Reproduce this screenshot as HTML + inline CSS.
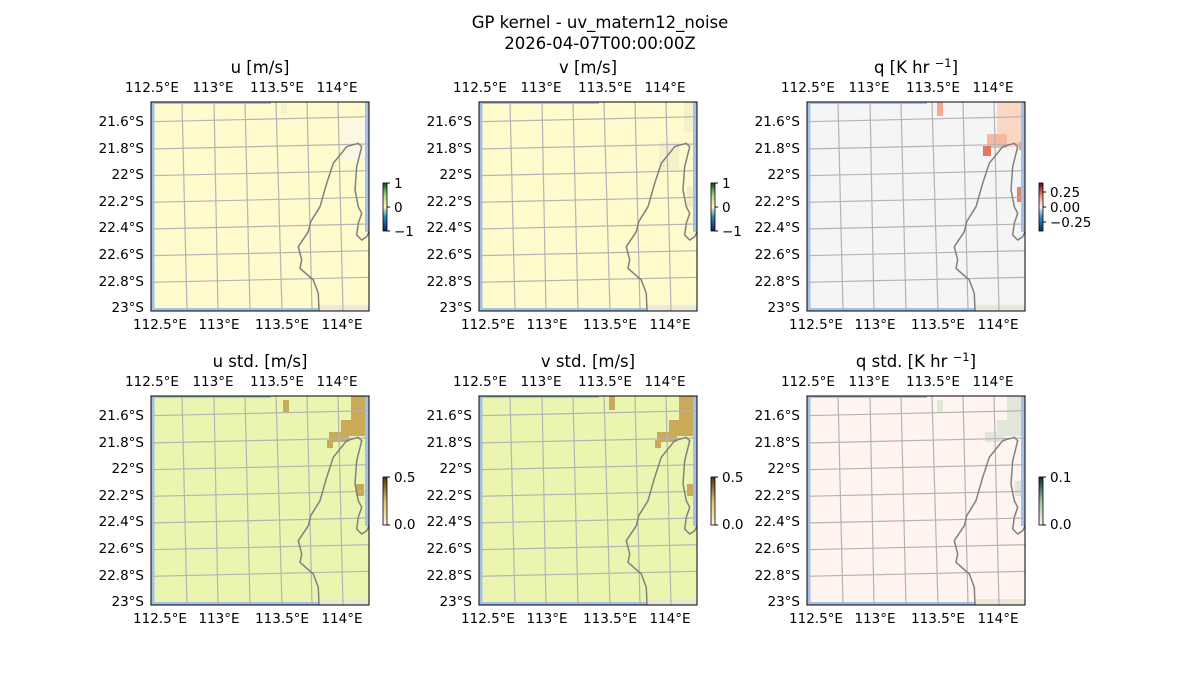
<!DOCTYPE html>
<html><head><meta charset="utf-8"><style>
body{margin:0;background:#fff}
svg{display:block;font-family:"DejaVu Sans","Liberation Sans",sans-serif}
</style></head><body>
<svg width="1200" height="700" viewBox="0 0 1200 700" xmlns="http://www.w3.org/2000/svg">
<defs>
<g id="map">
<rect x="0" y="0" width="3.5" height="209" fill="#a4c0e6"/>
<rect x="0" y="0" width="120" height="2" fill="#a4c0e6"/>
<rect x="0" y="206" width="168" height="3" fill="#a4c0e6"/>
<rect x="214" y="0" width="4" height="130" fill="#a4c0e6"/>
<rect x="168" y="203" width="50" height="6" fill="#ebe8da"/>
<g stroke="#b4b4b4" stroke-width="1.2" fill="none">
<line x1="31" y1="0" x2="36" y2="209"/><line x1="63" y1="0" x2="67" y2="209"/>
<line x1="94" y1="0" x2="99" y2="209"/><line x1="125" y1="0" x2="131" y2="209"/>
<line x1="156" y1="0" x2="161" y2="209"/><line x1="187" y1="0" x2="192" y2="209"/>
<line x1="0" y1="19.7" x2="218" y2="14.7"/><line x1="0" y1="47" x2="218" y2="42"/>
<line x1="0" y1="73.7" x2="218" y2="68.7"/><line x1="0" y1="100.3" x2="218" y2="95.3"/>
<line x1="0" y1="127" x2="218" y2="122"/><line x1="0" y1="153.7" x2="218" y2="148.7"/>
<line x1="0" y1="180.3" x2="218" y2="175.3"/>
</g>
<polyline fill="none" stroke="#808080" stroke-width="1.5" points="168,209 167.3,191.3 162.3,178 149,166.3 150.7,158 147.3,144.7 157.3,129.7 159.7,119.7 169,104.7 175.7,81.3 182.3,61.3 195.7,44.7 207.3,41.3 210.7,44.7 205.7,64.7 204,88 207.3,104.7 210.7,111.3 207.3,121.3 205.7,133 210.7,138 215.7,134.7 218,129.7"/>
</g>
<g id="ticks" font-size="13.5" fill="#000">
<g text-anchor="middle">
<text x="152" y="92">112.5°E</text><text x="213" y="92">113°E</text><text x="277" y="92">113.5°E</text><text x="337" y="92">114°E</text>
<text x="160" y="329">112.5°E</text><text x="219" y="329">113°E</text><text x="282" y="329">113.5°E</text><text x="342" y="329">114°E</text>
</g>
<g text-anchor="end">
<text x="144" y="126">21.6°S</text><text x="144" y="153">21.8°S</text><text x="144" y="179">22°S</text><text x="144" y="206">22.2°S</text>
<text x="144" y="232">22.4°S</text><text x="144" y="259">22.6°S</text><text x="144" y="286">22.8°S</text><text x="144" y="312">23°S</text>
</g>
</g>
<linearGradient id="gYG" x1="0" y1="1" x2="0" y2="0"><stop offset="0" stop-color="#0a2070"/><stop offset="0.3" stop-color="#2a90c0"/><stop offset="0.5" stop-color="#fff8c0"/><stop offset="0.75" stop-color="#a8d870"/><stop offset="1" stop-color="#005020"/></linearGradient>
<linearGradient id="gRB" x1="0" y1="1" x2="0" y2="0"><stop offset="0" stop-color="#053061"/><stop offset="0.3" stop-color="#4393c3"/><stop offset="0.5" stop-color="#f7f7f7"/><stop offset="0.7" stop-color="#f4a582"/><stop offset="1" stop-color="#67001f"/></linearGradient>
<linearGradient id="gS" x1="0" y1="1" x2="0" y2="0"><stop offset="0" stop-color="#fff8e0"/><stop offset="0.5" stop-color="#e0c070"/><stop offset="1" stop-color="#503010"/></linearGradient>
<linearGradient id="gQ" x1="0" y1="1" x2="0" y2="0"><stop offset="0" stop-color="#fff4f0"/><stop offset="0.5" stop-color="#a0c0a0"/><stop offset="1" stop-color="#003030"/></linearGradient>
</defs>

<text x="600" y="28" font-size="16.5" text-anchor="middle">GP kernel - uv_matern12_noise</text>
<text x="600" y="49" font-size="16.5" text-anchor="middle">2026-04-07T00:00:00Z</text>

<g font-size="16.5" text-anchor="middle">
<text x="260" y="73">u [m/s]</text><text x="588" y="73">v [m/s]</text><text x="916" y="73">q [K hr <tspan font-size="11.5" dy="-6">−1</tspan><tspan dy="6">]</tspan></text>
<text x="260" y="367">u std. [m/s]</text><text x="588" y="367">v std. [m/s]</text><text x="916" y="367">q std. [K hr <tspan font-size="11.5" dy="-6">−1</tspan><tspan dy="6">]</tspan></text>
</g>

<g transform="translate(151,102)"><rect width="218" height="209" fill="#fffbcc"/>
<rect x="190" y="18" width="28" height="40" fill="#fbf8e2"/><rect x="130" y="0" width="6" height="12" fill="#f7f2cc"/>
<use href="#map"/><rect width="218" height="209" fill="none" stroke="#000"/></g>
<g transform="translate(479,102)"><rect width="218" height="209" fill="#fffbcc"/>
<rect x="180" y="40" width="20" height="30" fill="#f4f0cc"/><rect x="205" y="0" width="13" height="30" fill="#f4f0cc"/><rect x="208" y="85" width="8" height="20" fill="#f0ecc8"/>
<use href="#map"/><rect width="218" height="209" fill="none" stroke="#000"/></g>
<g transform="translate(807,102)"><rect width="218" height="209" fill="#f5f5f5"/>
<rect x="190" y="0" width="28" height="45" fill="#fbd6c4"/><rect x="180" y="32" width="20" height="14" fill="#f6b8a0"/>
<rect x="176" y="44" width="8" height="10" fill="#e07860"/><rect x="130" y="0" width="6" height="14" fill="#f4a890"/>
<rect x="210" y="85" width="8" height="15" fill="#e48468"/><rect x="212" y="40" width="6" height="8" fill="#f0a080"/>
<use href="#map"/><rect width="218" height="209" fill="none" stroke="#000"/></g>

<g transform="translate(151,396)"><rect width="218" height="209" fill="#eaf6b0"/>
<g fill="#c8aa58"><rect x="200" y="0" width="14" height="40"/><rect x="190" y="24" width="20" height="16"/><rect x="178" y="36" width="20" height="10"/><rect x="176" y="44" width="6" height="8"/><rect x="205" y="88" width="8" height="12"/><rect x="132" y="4" width="6" height="12"/></g>
<use href="#map"/><rect width="218" height="209" fill="none" stroke="#000"/></g>
<g transform="translate(479,396)"><rect width="218" height="209" fill="#eaf6b0"/>
<g fill="#c8aa58"><rect x="200" y="0" width="14" height="40"/><rect x="190" y="24" width="20" height="16"/><rect x="178" y="36" width="20" height="10"/><rect x="176" y="44" width="6" height="8"/><rect x="208" y="88" width="8" height="12"/><rect x="130" y="0" width="6" height="14"/></g>
<use href="#map"/><rect width="218" height="209" fill="none" stroke="#000"/></g>
<g transform="translate(807,396)"><rect width="218" height="209" fill="#fff4f0"/>
<g fill="#e2e6d6"><rect x="200" y="0" width="14" height="40"/><rect x="190" y="24" width="20" height="16"/><rect x="178" y="36" width="20" height="10"/><rect x="208" y="85" width="8" height="15"/><rect x="130" y="4" width="6" height="12"/></g>
<use href="#map"/><rect width="218" height="209" fill="none" stroke="#000"/></g>

<use href="#ticks"/><use href="#ticks" x="328"/><use href="#ticks" x="656"/>
<use href="#ticks" y="294"/><use href="#ticks" x="328" y="294"/><use href="#ticks" x="656" y="294"/>

<g font-size="13.5">
<rect x="383" y="183" width="4" height="48" fill="url(#gYG)" stroke="#000" stroke-width="0.8"/>
<g stroke="#000"><line x1="387" y1="183" x2="390" y2="183"/><line x1="387" y1="207" x2="390" y2="207"/><line x1="387" y1="231" x2="390" y2="231"/></g>
<text x="394" y="188">1</text><text x="394" y="212">0</text><text x="394" y="236">−1</text>

<rect x="711" y="183" width="4" height="48" fill="url(#gYG)" stroke="#000" stroke-width="0.8"/>
<g stroke="#000"><line x1="715" y1="183" x2="718" y2="183"/><line x1="715" y1="207" x2="718" y2="207"/><line x1="715" y1="231" x2="718" y2="231"/></g>
<text x="722" y="188">1</text><text x="722" y="212">0</text><text x="722" y="236">−1</text>

<rect x="1039" y="183" width="4" height="48" fill="url(#gRB)" stroke="#000" stroke-width="0.8"/>
<g stroke="#000"><line x1="1043" y1="192" x2="1046" y2="192"/><line x1="1043" y1="207" x2="1046" y2="207"/><line x1="1043" y1="222" x2="1046" y2="222"/></g>
<text x="1050" y="197">0.25</text><text x="1050" y="212">0.00</text><text x="1050" y="227">−0.25</text>

<rect x="383" y="477" width="4" height="48" fill="url(#gS)" stroke="#000" stroke-width="0.8"/>
<g stroke="#000"><line x1="387" y1="477" x2="390" y2="477"/><line x1="387" y1="525" x2="390" y2="525"/></g>
<text x="394" y="482">0.5</text><text x="394" y="529">0.0</text>

<rect x="711" y="477" width="4" height="48" fill="url(#gS)" stroke="#000" stroke-width="0.8"/>
<g stroke="#000"><line x1="715" y1="477" x2="718" y2="477"/><line x1="715" y1="525" x2="718" y2="525"/></g>
<text x="722" y="482">0.5</text><text x="722" y="529">0.0</text>

<rect x="1039" y="477" width="4" height="48" fill="url(#gQ)" stroke="#000" stroke-width="0.8"/>
<g stroke="#000"><line x1="1043" y1="477" x2="1046" y2="477"/><line x1="1043" y1="525" x2="1046" y2="525"/></g>
<text x="1050" y="482">0.1</text><text x="1050" y="529">0.0</text>
</g>
</svg>
</body></html>
